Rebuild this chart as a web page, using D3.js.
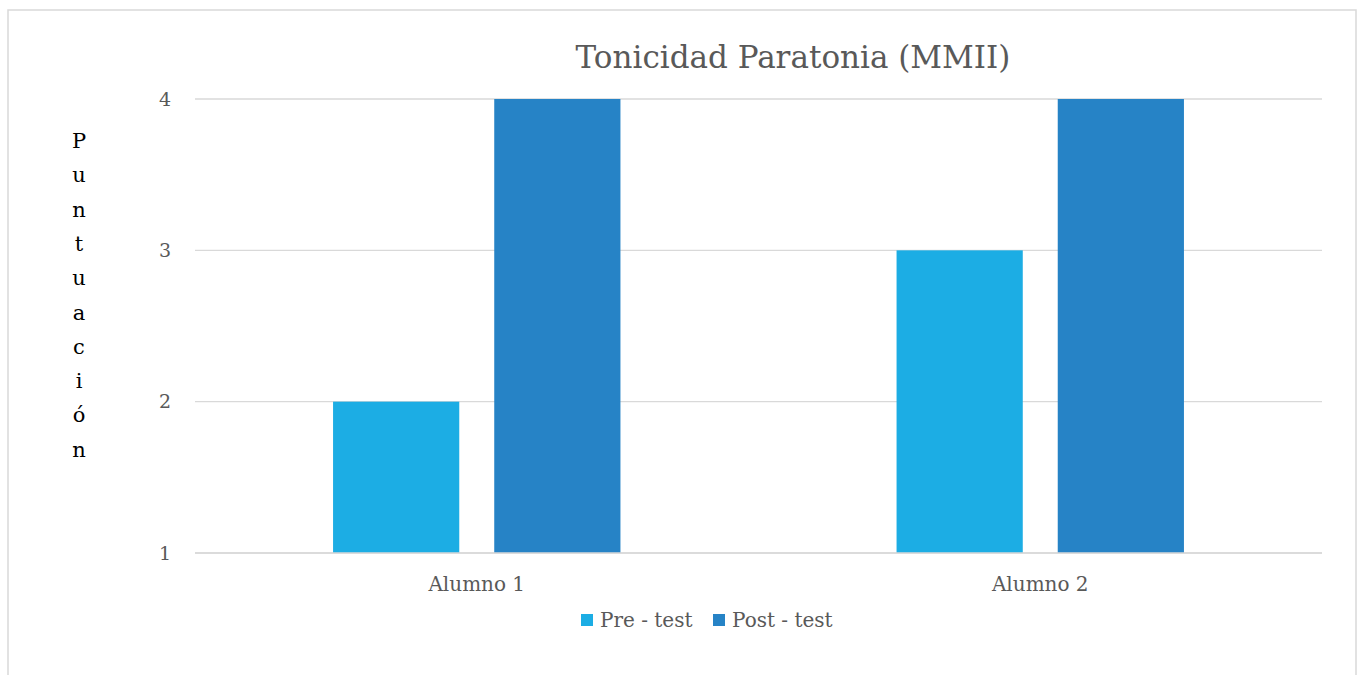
<!DOCTYPE html>
<html>
<head>
<meta charset="utf-8">
<script src="https://cdn.jsdelivr.net/npm/d3@7"></script>
<style>
  body { margin: 0; background: #fff; }
  text { font-family: "DejaVu Serif", "Liberation Serif", serif; }
</style>
</head>
<body>
<div id="chart"></div>
<script>
// data
var categories = ["Alumno 1", "Alumno 2"];
var seriesNames = ["Pre - test", "Post - test"];
var preTest = [2, 3];
var postTest = [4, 4];
var yTicks = [1, 2, 3, 4];
var colors = ["#1cade4", "#2683c6"];

var svgWidth = 1360;
var svgHeight = 675;
var margin = { top: 99, right: 38, bottom: 122, left: 195 };
var width = svgWidth - margin.left - margin.right;
var height = svgHeight - margin.top - margin.bottom;

var svg = d3.select("#chart")
  .append("svg")
  .attr("width", svgWidth)
  .attr("height", svgHeight);

// chart border (bottom edge runs off the page)
svg.append("path")
  .attr("d", "M8,676 L8,10 L1356,10 L1356,676")
  .attr("fill", "none")
  .attr("stroke", "#d9d9d9")
  .attr("stroke-width", 1.5);

var chartGroup = svg.append("g")
  .attr("transform", `translate(${margin.left}, ${margin.top})`);

// scales
var x0 = d3.scaleBand()
  .domain(categories)
  .range([0, width])
  .paddingInner(0.49)
  .paddingOuter(0.245);

var x1 = d3.scaleBand()
  .domain(seriesNames)
  .range([0, x0.bandwidth()])
  .paddingInner(0.217);

var y = d3.scaleLinear()
  .domain([1, 4])
  .range([height, 0]);

// gridlines
chartGroup.append("g")
  .selectAll("line")
  .data(yTicks)
  .enter()
  .append("line")
  .attr("x1", 0)
  .attr("x2", width)
  .attr("y1", d => y(d))
  .attr("y2", d => y(d))
  .attr("stroke", "#d9d9d9")
  .attr("stroke-width", 1.3);

// bars
var rows = categories.map((c, i) => ({ cat: c, values: [preTest[i], postTest[i]] }));
var groups = chartGroup.selectAll(".grp")
  .data(rows)
  .enter()
  .append("g")
  .attr("transform", d => `translate(${x0(d.cat)}, 0)`);

groups.selectAll("rect")
  .data(d => d.values.map((v, j) => ({ name: seriesNames[j], value: v, idx: j })))
  .enter()
  .append("rect")
  .attr("x", d => x1(d.name))
  .attr("y", d => y(d.value))
  .attr("width", x1.bandwidth())
  .attr("height", d => height - y(d.value))
  .attr("fill", d => colors[d.idx]);

// axis line at bottom redrawn over bars
chartGroup.append("line")
  .attr("x1", 0)
  .attr("x2", width)
  .attr("y1", height)
  .attr("y2", height)
  .attr("stroke", "#d9d9d9")
  .attr("stroke-width", 1.5);

// y tick labels
var yAxis = d3.axisLeft(y).tickValues(yTicks).tickFormat(d3.format("d")).tickSize(0).tickPadding(24);
var yAxisG = chartGroup.append("g").call(yAxis);
yAxisG.select(".domain").remove();
yAxisG.selectAll("text")
  .attr("fill", "#595959")
  .style("font-size", "19px")
  .style("font-family", "DejaVu Serif");

// x tick labels
var xAxis = d3.axisBottom(x0).tickSize(0).tickPadding(24);
var xAxisG = chartGroup.append("g")
  .attr("transform", `translate(0, ${height})`)
  .call(xAxis);
xAxisG.select(".domain").remove();
xAxisG.selectAll("text")
  .attr("fill", "#595959")
  .style("font-size", "20px")
  .style("font-family", "DejaVu Serif");

// title
svg.append("text")
  .attr("x", 793)
  .attr("y", 68)
  .attr("text-anchor", "middle")
  .attr("fill", "#595959")
  .style("font-size", "31px")
  .text("Tonicidad Paratonia (MMII)");

// y axis label, one letter per line
var yLabel = "Puntuación".split("");
svg.append("g")
  .selectAll("text")
  .data(yLabel)
  .enter()
  .append("text")
  .attr("x", 79)
  .attr("y", (d, i) => 148 + i * 34.3)
  .attr("text-anchor", "middle")
  .attr("fill", "#000")
  .style("font-size", "21px")
  .text(d => d);

// legend
var legendX = [581, 713];
var legend = svg.append("g")
  .selectAll("g")
  .data(seriesNames)
  .enter()
  .append("g")
  .attr("transform", (d, i) => `translate(${legendX[i]}, 614)`);
legend.append("rect")
  .attr("width", 12)
  .attr("height", 12)
  .attr("fill", (d, i) => colors[i]);
legend.append("text")
  .attr("x", 19)
  .attr("y", 13)
  .attr("fill", "#595959")
  .style("font-size", "20px")
  .text(d => d);
</script>
</body>
</html>
